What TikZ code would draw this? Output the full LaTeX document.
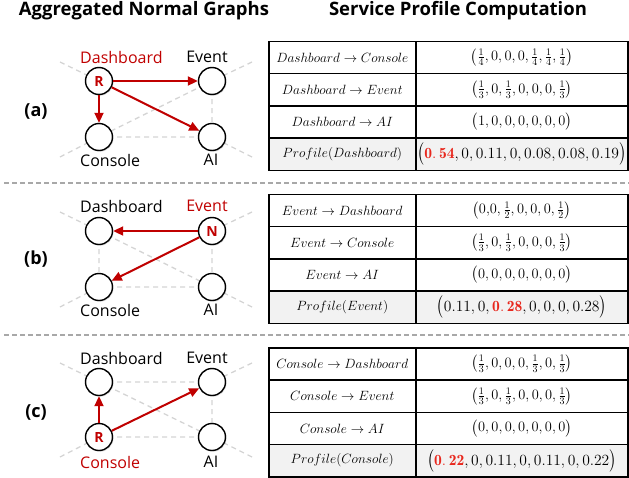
\documentclass[tikz,border=0pt]{standalone}
\usepackage{fontspec}
\usepackage{amsmath}
\usepackage{graphicx}
\newfontfamily\uisans{Open Sans}
\usetikzlibrary{arrows.meta,shadows}
\definecolor{darkred}{HTML}{C00000}
\definecolor{hired}{HTML}{E8281E}
\definecolor{edgegray}{HTML}{D4D4D4}
\definecolor{sepgray}{HTML}{A8A8A8}
\definecolor{rowgray}{HTML}{F2F2F2}
\newcommand{\hl}[1]{\textcolor{hired}{\mathbf{#1}}}
\newcommand{\pvec}[1]{\left(\rule[-5pt]{0pt}{16pt}#1\right)}
\newcommand{\tallp}[1]{\scalebox{1}[1.2]{$\bigl#1$}}
\newcommand{\prof}[1]{\scalebox{1.08}{$\tallp{(}#1\tallp{)}$}}
\newcommand{\lm}[1]{\scalebox{1.117}{$#1$}}
\tikzset{
  svc/.style={circle, draw=black, line width=1.4pt, fill=white, minimum size=27pt, inner sep=0pt,
    drop shadow={opacity=0.25, shadow xshift=1pt, shadow yshift=-1.2pt}},
  lab/.style={font=\uisans\fontsize{16}{18}\selectfont, inner sep=0pt},
  redlab/.style={lab, text=darkred},
  inlet/.style={font=\uisans\bfseries\fontsize{14}{16}\selectfont, text=darkred},
  head/.style={font=\uisans\bfseries\fontsize{18.5}{21}\selectfont, inner sep=0pt},
  tag/.style={font=\uisans\bfseries\fontsize{18}{21}\selectfont, inner sep=0pt},
  ghost/.style={draw=edgegray, line width=1.3pt, dash pattern=on 5pt off 4pt},
  redarr/.style={draw=darkred, line width=2pt, -{Triangle[length=10pt,width=9pt]}},
  sep/.style={draw=sepgray, line width=2.4pt, dash pattern=on 5pt off 3pt},
  cellbase/.style={draw=black, line width=1.5pt, minimum height=32.25pt, anchor=north west,
    inner sep=0pt},
  lcell/.style={cellbase, minimum width=147pt, font=\fontsize{12}{14}\selectfont},
  rcell/.style={cellbase, minimum width=212pt, font=\fontsize{14.4}{17}\selectfont},
}
\begin{document}
\begin{tikzpicture}[x=1pt,y=-1pt]
\useasboundingbox (0,0) rectangle (629,477);
% headers
\node[head] (h1) at (144,11) {Aggregated Normal Graphs};
\node[head] (h2) at (458,11) {Service Profile Computation};
% separators
\coordinate (s1a) at (4,183); \coordinate (s1b) at (629,183);
\coordinate (s2a) at (4,335); \coordinate (s2b) at (629,335);
\draw[sep] (s1a) -- (s1b);
\draw[sep] (s2a) -- (s2b);

% ---------- panel (a) ----------
\node[tag] (ta) at (36,111) {(a)};
\coordinate (a-tl) at (60,62); \coordinate (a-tr) at (252,62);
\coordinate (a-bl) at (60,157); \coordinate (a-br) at (252,157);
\coordinate (a-d0) at (99,81); \coordinate (a-e0) at (212,81);
\coordinate (a-c0) at (99,137); \coordinate (a-i0) at (212,137);
\draw[ghost] (a-tl) -- (a-d0) (a-tr) -- (a-e0) (a-bl) -- (a-c0) (a-br) -- (a-i0)
  (a-d0) -- (a-e0) (a-d0) -- (a-c0) (a-d0) -- (a-i0) (a-e0) -- (a-c0) (a-e0) -- (a-i0) (a-c0) -- (a-i0);
\node[svc] (a-d) at (a-d0) {}; \node[inlet] at (a-d) {R};
\node[svc] (a-e) at (a-e0) {};
\node[svc] (a-c) at (a-c0) {};
\node[svc] (a-i) at (a-i0) {};
\node[redlab, anchor=west] (a-dl) at (80,57) {Dashboard};
\node[lab] (a-el) at (207,57) {Event};
\node[lab, anchor=west] (a-cl) at (80,160) {Console};
\node[lab] (a-il) at (211,160) {AI};
\draw[redarr] (a-d) -- (a-e);
\draw[redarr] (a-d) -- (a-c);
\draw[redarr] (a-d) -- (a-i);

% ---------- panel (b) ----------
\node[tag] (tb) at (36,259) {(b)};
\coordinate (b-tl) at (60,212); \coordinate (b-tr) at (252,212);
\coordinate (b-bl) at (60,307); \coordinate (b-br) at (252,307);
\coordinate (b-d0) at (99,231); \coordinate (b-e0) at (212,231);
\coordinate (b-c0) at (99,287); \coordinate (b-i0) at (212,287);
\draw[ghost] (b-tl) -- (b-d0) (b-tr) -- (b-e0) (b-bl) -- (b-c0) (b-br) -- (b-i0)
  (b-d0) -- (b-e0) (b-d0) -- (b-c0) (b-d0) -- (b-i0) (b-e0) -- (b-c0) (b-e0) -- (b-i0) (b-c0) -- (b-i0);
\node[svc] (b-d) at (b-d0) {};
\node[svc] (b-e) at (b-e0) {}; \node[inlet] at (b-e) {N};
\node[svc] (b-c) at (b-c0) {};
\node[svc] (b-i) at (b-i0) {};
\node[lab, anchor=west] (b-dl) at (80,206) {Dashboard};
\node[redlab] (b-el) at (207,206) {Event};
\node[lab, anchor=west] (b-cl) at (80,310) {Console};
\node[lab] (b-il) at (211,310) {AI};
\draw[redarr] (b-e) -- (b-d);
\draw[redarr] (b-e) -- (b-c);

% ---------- panel (c) ----------
\node[tag] (tc) at (36,412) {(c)};
\coordinate (c-tl) at (60,363); \coordinate (c-tr) at (252,363);
\coordinate (c-bl) at (60,457); \coordinate (c-br) at (252,457);
\coordinate (c-d0) at (99,382); \coordinate (c-e0) at (212,382);
\coordinate (c-c0) at (99,437); \coordinate (c-i0) at (212,437);
\draw[ghost] (c-tl) -- (c-d0) (c-tr) -- (c-e0) (c-bl) -- (c-c0) (c-br) -- (c-i0)
  (c-d0) -- (c-e0) (c-d0) -- (c-c0) (c-d0) -- (c-i0) (c-e0) -- (c-c0) (c-e0) -- (c-i0) (c-c0) -- (c-i0);
\node[svc] (c-d) at (c-d0) {};
\node[svc] (c-e) at (c-e0) {};
\node[svc] (c-c) at (c-c0) {}; \node[inlet] at (c-c) {R};
\node[svc] (c-i) at (c-i0) {};
\node[lab, anchor=west] (c-dl) at (80,358) {Dashboard};
\node[lab] (c-el) at (207,358) {Event};
\node[redlab, anchor=west] (c-cl) at (80,462) {Console};
\node[lab] (c-il) at (211,462) {AI};
\draw[redarr] (c-c) -- (c-d);
\draw[redarr] (c-c) -- (c-e);

% ---------- table (a) ----------
\node[lcell] (ta1l) at (268,40.5) {\lm{Dashboard \rightarrow Console}};
\node[rcell] (ta1r) at (415,40.5) {$\pvec{\frac14,0,0,0,\frac14,\frac14,\frac14}$};
\node[lcell] (ta2l) at (268,72.75) {\lm{Dashboard \rightarrow Event}};
\node[rcell] (ta2r) at (415,72.75) {$\pvec{\frac13,0,\frac13,0,0,0,\frac13}$};
\node[lcell] (ta3l) at (268,105) {\lm{Dashboard \rightarrow AI}};
\node[rcell] (ta3r) at (415,105) {$\pvec{1,0,0,0,0,0,0}$};
\node[lcell, fill=rowgray] (ta4l) at (268,137.25) {\lm{Profile(Dashboard)}};
\node[rcell, fill=rowgray] (ta4r) at (415,137.25) {\prof{\hl{0.\,54},0,0.11,0,0.08,0.08,0.19}};

% ---------- table (b) ----------
\node[lcell] (tb1l) at (268,193.5) {\lm{Event \rightarrow Dashboard}};
\node[rcell] (tb1r) at (415,193.5) {$\pvec{0{,}0,\frac12,0,0,0,\frac12}$};
\node[lcell] (tb2l) at (268,225.75) {\lm{Event \rightarrow Console}};
\node[rcell] (tb2r) at (415,225.75) {$\pvec{\frac13,0,\frac13,0,0,0,\frac13}$};
\node[lcell] (tb3l) at (268,258) {\lm{Event \rightarrow AI}};
\node[rcell] (tb3r) at (415,258) {$\pvec{0,0,0,0,0,0,0}$};
\node[lcell, fill=rowgray] (tb4l) at (268,290.25) {\lm{Profile(Event)}};
\node[rcell, fill=rowgray] (tb4r) at (415,290.25) {\prof{0.11,0,\hl{0.\,28},0,0,0,0.28}};

% ---------- table (c) ----------
\node[lcell] (tc1l) at (268,347) {\lm{Console \rightarrow Dashboard}};
\node[rcell] (tc1r) at (415,347) {$\pvec{\frac13,0,0,0,\frac13,0,\frac13}$};
\node[lcell] (tc2l) at (268,379.25) {\lm{Console \rightarrow Event}};
\node[rcell] (tc2r) at (415,379.25) {$\pvec{\frac13,0,\frac13,0,0,0,\frac13}$};
\node[lcell] (tc3l) at (268,411.5) {\lm{Console \rightarrow AI}};
\node[rcell] (tc3r) at (415,411.5) {$\pvec{0,0,0,0,0,0,0}$};
\node[lcell, fill=rowgray] (tc4l) at (268,443.75) {\lm{Profile(Console)}};
\node[rcell, fill=rowgray] (tc4r) at (415,443.75) {\prof{\hl{0.\,22},0,0.11,0,0.11,0,0.22}};
\end{tikzpicture}
\end{document}
